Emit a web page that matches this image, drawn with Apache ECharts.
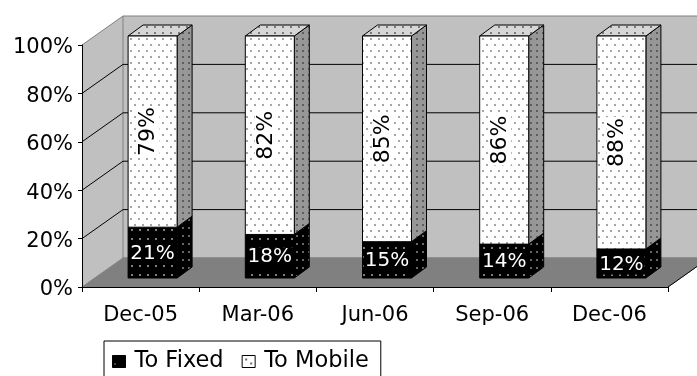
<!DOCTYPE html>
<html>
<head>
<meta charset="utf-8">
<script src="https://cdn.jsdelivr.net/npm/echarts@6/dist/echarts.min.js"></script>
<style>
  html, body { margin: 0; padding: 0; background: #ffffff; }
  #chart { width: 697px; height: 376px; }
</style>
</head>
<body>
<div id="chart"></div>
<script>
// Share of outgoing traffic by destination network, per quarter (percent).
const categories = ['Dec-05', 'Mar-06', 'Jun-06', 'Sep-06', 'Dec-06'];
const toFixed = [21, 18, 15, 14, 12];
const toMobile = [79, 82, 85, 86, 88];
const yTicks = [0, 20, 40, 60, 80, 100];

const FONT = 'DejaVu Sans';
// Pseudo-3D geometry: depth of the box around the plot, and of each column.
const WALL = [41, -29];
const BAR_SHIFT = [12, -9];
const BAR_DEPTH = [15, -11];
const BAR_WIDTH = 49;

// Small tiled canvases used as dotted fills.
function dotPattern(w, h, bg, dot, dots, r) {
  const c = document.createElement('canvas');
  c.width = w; c.height = h;
  const g = c.getContext('2d');
  g.fillStyle = bg; g.fillRect(0, 0, w, h);
  g.fillStyle = dot;
  dots.forEach(([x, y]) => g.fillRect(x, y, r, r));
  return { image: c, repeat: 'repeat' };
}

const fills = {
  mobileFront: dotPattern(8, 12, '#ffffff', '#a6a6a6', [[2, 2], [6, 8]], 2),
  mobileSide:  dotPattern(6, 6, '#979797', '#5e5e5e', [[2, 2]], 2),
  mobileTop:   dotPattern(8, 6, '#d6d6d6', '#7a7a7a', [[2, 2]], 2),
  fixedFront:  dotPattern(8, 9, '#000000', '#7f7f7f', [[3, 4]], 2),
  fixedSide:   dotPattern(6, 8, '#000000', '#666666', [[2, 3]], 2),
  fixedTop:    dotPattern(8, 6, '#202020', '#777777', [[2, 2]], 2)
};

const legendFixed = dotPattern(13, 12, '#000000', '#ffffff', [[2, 8]], 1);
const legendMobile = dotPattern(13, 12, '#ffffff', '#6a6a6a', [[3, 3], [8, 7]], 2);

// Walls, floor and wall gridlines of the 3D frame.
function renderFrame(params, api) {
  const band = api.size([1, 0])[0];
  const xA = api.coord([0, 0])[0] - band / 2;
  const xB = api.coord([categories.length - 1, 0])[0] + band / 2;
  const y0 = api.coord([0, 0])[1];
  const y100 = api.coord([0, 100])[1];
  const [dx, dy] = WALL;
  const children = [
    { type: 'polygon', shape: { points: [[xA, y0], [xA, y100], [xA + dx, y100 + dy], [xA + dx, y0 + dy]] },
      style: { fill: '#c0c0c0', stroke: null } },
    { type: 'polygon', shape: { points: [[xA + dx, y0 + dy], [xA + dx, y100 + dy], [xB + dx, y100 + dy], [xB + dx, y0 + dy]] },
      style: { fill: '#c0c0c0', stroke: '#808080', lineWidth: 1 } },
    { type: 'polygon', shape: { points: [[xA, y0], [xB, y0], [xB + dx, y0 + dy], [xA + dx, y0 + dy]] },
      style: { fill: '#808080', stroke: '#808080', lineWidth: 1 } },
    { type: 'line', shape: { x1: xB, y1: y0, x2: xB + dx, y2: y0 + dy }, style: { stroke: '#000', lineWidth: 1 } },
    { type: 'line', shape: { x1: xA, y1: y100, x2: xA + dx, y2: y100 + dy }, style: { stroke: '#808080', lineWidth: 1 } }
  ];
  yTicks.forEach(t => {
    if (t <= 0 || t >= 100) return;
    const y = api.coord([0, t])[1];
    children.push({ type: 'line', shape: { x1: xA, y1: y, x2: xA + dx, y2: y + dy }, style: { stroke: '#000', lineWidth: 1 } });
    children.push({ type: 'line', shape: { x1: xA + dx, y1: y + dy, x2: xB + dx, y2: y + dy }, style: { stroke: '#000', lineWidth: 1 } });
  });
  return { type: 'group', children };
}

// One stacked segment drawn as a box: right side, top, front face and its value.
function boxRenderer(front, side, top, labelColor, labelBg, vertical, labelSize) {
  return function (params, api) {
    const i = api.value(0), lo = api.value(1), hi = api.value(2);
    const pLo = api.coord([i, lo]);
    const pHi = api.coord([i, hi]);
    const xL = pLo[0] + BAR_SHIFT[0] - BAR_WIDTH / 2;
    const xR = xL + BAR_WIDTH;
    const yB = pLo[1] + BAR_SHIFT[1];
    const yT = pHi[1] + BAR_SHIFT[1];
    const [dx, dy] = BAR_DEPTH;
    const edge = { stroke: '#000', lineWidth: 1 };
    return {
      type: 'group',
      children: [
        { type: 'polygon', shape: { points: [[xR, yB], [xR + dx, yB + dy], [xR + dx, yT + dy], [xR, yT]] },
          style: Object.assign({ fill: side }, edge) },
        { type: 'polygon', shape: { points: [[xL, yT], [xR, yT], [xR + dx, yT + dy], [xL + dx, yT + dy]] },
          style: Object.assign({ fill: top }, edge) },
        { type: 'rect', shape: { x: xL, y: yT, width: BAR_WIDTH, height: yB - yT },
          style: Object.assign({ fill: front }, edge) },
        { type: 'text', x: (xL + xR) / 2 - (vertical ? 4 : 0), y: (yT + yB) / 2 + (vertical ? 0 : 1),
          rotation: vertical ? Math.PI / 2 : 0,
          style: { text: (hi - lo) + '%', fill: labelColor, fontFamily: FONT, fontSize: labelSize,
                   align: 'center', verticalAlign: 'middle', backgroundColor: labelBg, padding: [0, 1] } }
      ]
    };
  };
}

const fixedData = categories.map((c, i) => [i, 0, toFixed[i]]);
const mobileData = categories.map((c, i) => [i, toFixed[i], toFixed[i] + toMobile[i]]);

const chart = echarts.init(document.getElementById('chart'), null, { renderer: 'canvas' });
chart.setOption({
  animation: false,
  backgroundColor: '#ffffff',
  textStyle: { fontFamily: FONT },
  grid: { left: 82, right: 29, top: 45, bottom: 89, containLabel: false, outerBoundsMode: 'none' },
  legend: {
    left: 104, top: 341,
    orient: 'horizontal',
    padding: [9, 12, 8, 8],
    itemWidth: 13, itemHeight: 12, itemGap: 18,
    borderColor: '#000', borderWidth: 1, borderRadius: 0,
    textStyle: { fontFamily: FONT, fontSize: 22.5, color: '#000', padding: [0, 0, 0, 4] },
    data: [
      { name: 'To Fixed', icon: 'rect', itemStyle: { color: legendFixed, borderColor: '#000', borderWidth: 1 } },
      { name: 'To Mobile', icon: 'rect', itemStyle: { color: legendMobile, borderColor: '#000', borderWidth: 1 } }
    ]
  },
  xAxis: {
    type: 'category', data: categories, z: 5,
    axisLine: { show: true, lineStyle: { color: '#000', width: 1 } },
    axisTick: { show: true, length: 5, lineStyle: { color: '#000' } },
    axisLabel: { color: '#000', fontFamily: FONT, fontSize: 21, margin: 18 },
    splitLine: { show: false }
  },
  yAxis: {
    type: 'value', min: 0, max: 100, interval: 20, z: 5,
    axisLine: { show: true, lineStyle: { color: '#000', width: 1 } },
    axisTick: { show: true, length: 4, lineStyle: { color: '#000' } },
    axisLabel: {
      color: '#000', fontFamily: FONT, fontSize: 21, margin: 9,
      formatter: '{p|{value}%}',
      rich: { p: { color: '#000', fontFamily: FONT, fontSize: 21, padding: [6, 0, 0, 0] } }
    },
    splitLine: { show: false }
  },
  series: [
    { name: 'frame', type: 'custom', z: 1, silent: true, data: [[0, 0]], renderItem: renderFrame },
    { name: 'To Fixed', type: 'custom', z: 2, data: fixedData,
      itemStyle: { color: legendFixed, borderColor: '#000' },
      renderItem: boxRenderer(fills.fixedFront, fills.fixedSide, fills.fixedTop, '#ffffff', '#000000', false, 20) },
    { name: 'To Mobile', type: 'custom', z: 3, data: mobileData,
      itemStyle: { color: legendMobile, borderColor: '#000' },
      renderItem: boxRenderer(fills.mobileFront, fills.mobileSide, fills.mobileTop, '#000000', '#ffffff', true, 22) }
  ]
});
</script>
</body>
</html>
